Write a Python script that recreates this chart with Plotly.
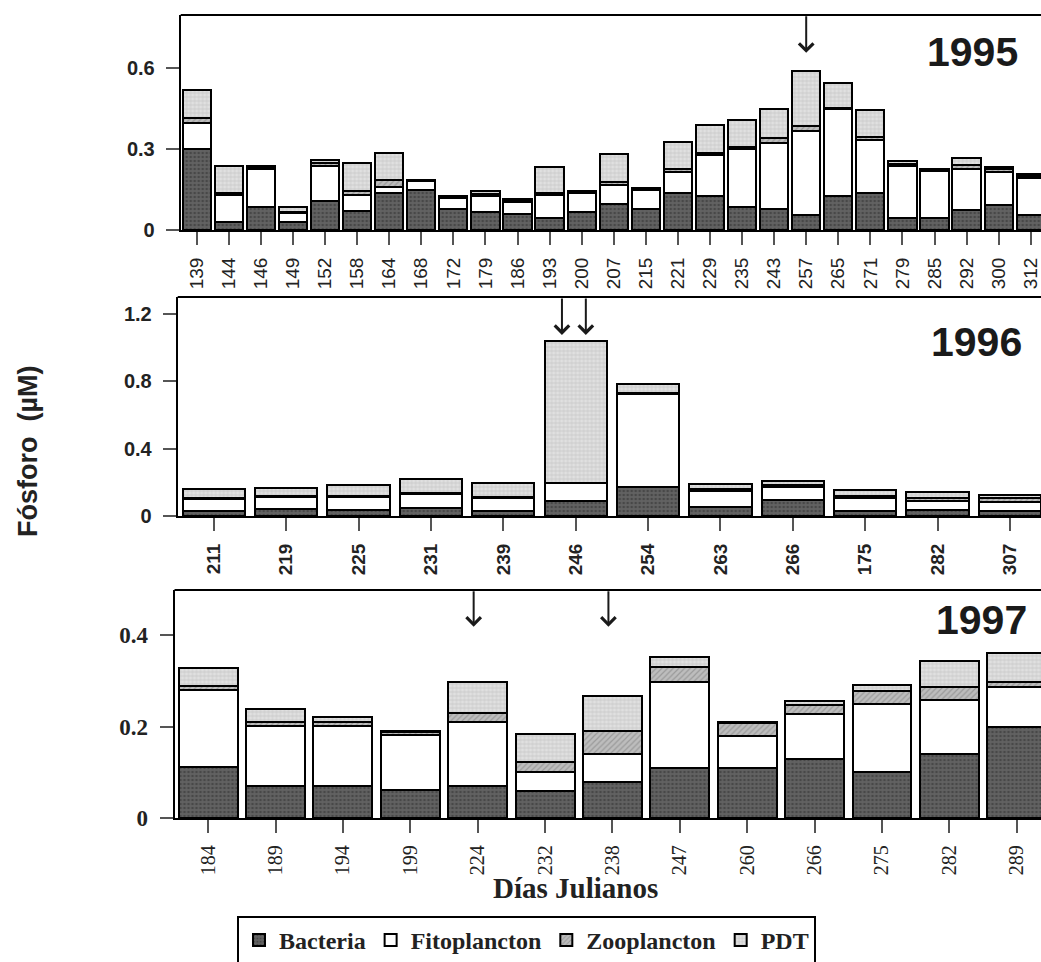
import plotly.graph_objects as go

W, H = 1041, 962

# ---- 1995 ----
dias_1995 = ["139", "144", "146", "149", "152", "158", "164", "168", "172", "179",
             "186", "193", "200", "207", "215", "221", "229", "235", "243", "257",
             "265", "271", "279", "285", "292", "300", "312"]
bact_1995 = [0.300, 0.031, 0.086, 0.031, 0.107, 0.070, 0.138, 0.148, 0.078, 0.068,
             0.058, 0.043, 0.065, 0.098, 0.077, 0.138, 0.126, 0.086, 0.077, 0.054,
             0.126, 0.136, 0.046, 0.046, 0.074, 0.093, 0.054]
fito_1995 = [0.097, 0.099, 0.139, 0.031, 0.131, 0.060, 0.022, 0.032, 0.039, 0.059,
             0.047, 0.087, 0.071, 0.069, 0.070, 0.078, 0.151, 0.213, 0.246, 0.313,
             0.321, 0.197, 0.191, 0.173, 0.151, 0.123, 0.140]
zoo_1995 = [0.019, 0.008, 0.005, 0.006, 0.009, 0.016, 0.025, 0.003, 0.004, 0.006,
            0.005, 0.008, 0.004, 0.011, 0.004, 0.011, 0.009, 0.008, 0.019, 0.018,
            0.003, 0.013, 0.006, 0.004, 0.016, 0.009, 0.005]
pdt_1995 = [0.103, 0.099, 0.007, 0.018, 0.011, 0.101, 0.101, 0.003, 0.006, 0.013,
            0.006, 0.097, 0.006, 0.102, 0.006, 0.099, 0.102, 0.100, 0.105, 0.204,
            0.096, 0.098, 0.013, 0.004, 0.024, 0.008, 0.007]

# ---- 1996 ----
dias_1996 = ["211", "219", "225", "231", "239", "246", "254", "263", "266", "175",
             "282", "307"]
bact_1996 = [0.032, 0.040, 0.036, 0.046, 0.032, 0.089, 0.172, 0.055, 0.095, 0.030,
             0.036, 0.030]
fito_1996 = [0.067, 0.071, 0.075, 0.085, 0.073, 0.105, 0.551, 0.094, 0.079, 0.079,
             0.053, 0.055]
zoo_1996 = [0.006, 0.005, 0.005, 0.005, 0.005, 0.004, 0.010, 0.013, 0.008, 0.010,
            0.020, 0.020]
pdt_1996 = [0.053, 0.052, 0.068, 0.084, 0.086, 0.838, 0.053, 0.030, 0.026, 0.033,
            0.036, 0.018]

# ---- 1997 ----
dias_1997 = ["184", "189", "194", "199", "224", "232", "238", "247", "260", "266",
             "275", "282", "289"]
bact_1997 = [0.111, 0.071, 0.071, 0.062, 0.071, 0.060, 0.080, 0.109, 0.109, 0.129,
             0.100, 0.140, 0.199]
fito_1997 = [0.169, 0.130, 0.130, 0.119, 0.138, 0.040, 0.060, 0.188, 0.071, 0.098,
             0.149, 0.117, 0.088]
zoo_1997 = [0.009, 0.008, 0.008, 0.007, 0.020, 0.022, 0.051, 0.032, 0.027, 0.020,
            0.029, 0.030, 0.010]
pdt_1997 = [0.038, 0.030, 0.011, 0.003, 0.068, 0.061, 0.076, 0.022, 0.002, 0.008,
            0.013, 0.057, 0.064]

componentes = ["Bacteria", "Fitoplancton", "Zooplancton", "PDT"]

estilos = {
    "Bacteria": dict(color="#5a5a5a",
                     pattern=dict(shape=".", fgcolor="#2e2e2e", bgcolor="#626262",
                                  size=4, solidity=0.35)),
    "Fitoplancton": dict(color="white"),
    "Zooplancton": dict(color="#b0b0b0",
                        pattern=dict(shape="/", fgcolor="#777777", bgcolor="#bdbdbd",
                                     size=4, solidity=0.3)),
    "PDT": dict(color="#d6d6d6",
                pattern=dict(shape="+", fgcolor="#9c9c9c", bgcolor="#e0e0e0",
                             size=4, solidity=0.25)),
}

paneles = [
    dict(dias=dias_1995, series=[bact_1995, fito_1995, zoo_1995, pdt_1995],
         ax="", width=0.88),
    dict(dias=dias_1996, series=[bact_1996, fito_1996, zoo_1996, pdt_1996],
         ax="2", width=0.86),
    dict(dias=dias_1997, series=[bact_1997, fito_1997, zoo_1997, pdt_1997],
         ax="3", width=0.875),
]

fig = go.Figure()
for i, p in enumerate(paneles):
    for nombre, valores in zip(componentes, p["series"]):
        est = estilos[nombre]
        marker = dict(color=est["color"], line=dict(color="black", width=2))
        if "pattern" in est:
            marker["pattern"] = est["pattern"]
        fig.add_trace(go.Bar(
            x=p["dias"], y=valores, name=nombre, legendgroup=nombre,
            showlegend=(i == 0), width=p["width"], marker=marker,
            xaxis="x" + p["ax"], yaxis="y" + p["ax"], hoverinfo="x+y+name",
        ))


def px_x(v):
    return v / W


def px_y(v):
    return 1 - v / H


sans = "Liberation Sans, Arial, sans-serif"
serif = "Liberation Serif, Times New Roman, serif"

eje_comun = dict(showline=True, linecolor="black", linewidth=2, ticks="outside",
                 tickcolor="#555", ticklen=13, tickwidth=1.5, showgrid=False,
                 zeroline=False)

# panel pixel frames: (left, top, bottom)
marcos = [(180.7, 15, 230), (177.7, 297, 516), (174.5, 590, 818.3)]
rangos_x = [[-0.5, 26.32], [-0.5, 11.43], [-0.5, 12.36]]
rangos_y = [[0, 0.796], [0, 1.30], [0, 0.498]]
ticks_y = [([0, 0.3, 0.6], ["0", "0.3", "0.6"]),
           ([0, 0.4, 0.8, 1.2], ["0", "0.4", "0.8", "1.2"]),
           ([0, 0.2, 0.4], ["0", "0.2", "0.4"])]
fuentes_x = [dict(family=sans, size=19, color="#222"),
             dict(family=sans, size=19, color="#222", weight="bold"),
             dict(family=serif, size=20, color="#222")]
fuentes_y = [dict(family=sans, size=20, color="#222", weight="bold"),
             dict(family=sans, size=20, color="#222", weight="bold"),
             dict(family=serif, size=23, color="#222", weight="bold")]
separacion_x = [5, 5, 4]

layout = dict(
    width=W, height=H, margin=dict(l=0, r=0, t=0, b=0, autoexpand=False),
    paper_bgcolor="white", plot_bgcolor="white", barmode="stack",
    showlegend=True,
    legend=dict(orientation="h", x=px_x(237), y=px_y(916), xanchor="left",
                yanchor="top", bordercolor="black", borderwidth=2,
                font=dict(family=serif, size=24, color="#222", weight="bold"),
                itemwidth=30, traceorder="normal"),
)

shapes = []
for i, (left, top, bottom) in enumerate(marcos):
    sfx = "" if i == 0 else str(i + 1)
    layout["xaxis" + sfx] = dict(
        eje_comun, domain=[px_x(left), 1], anchor="y" + sfx, type="category",
        range=rangos_x[i], tickangle=-90, tickfont=fuentes_x[i],
        ticklabelstandoff=separacion_x[i])
    layout["yaxis" + sfx] = dict(
        eje_comun, domain=[px_y(bottom), px_y(top)], anchor="x" + sfx,
        range=rangos_y[i], tickvals=ticks_y[i][0], ticktext=ticks_y[i][1],
        tickfont=fuentes_y[i], ticklabelstandoff=7)
    shapes.append(dict(type="line", xref="x" + sfx + " domain", yref="y" + sfx + " domain",
                       x0=0, x1=1.02, y0=1, y1=1, line=dict(color="black", width=2)))
layout["shapes"] = shapes

anots = []
# year labels
for texto, cx, cy in [("1995", 972, 52), ("1996", 976, 342), ("1997", 981, 620)]:
    anots.append(dict(text=texto, x=px_x(cx), y=px_y(cy), xref="paper", yref="paper",
                      showarrow=False, xanchor="center", yanchor="middle",
                      font=dict(family=sans, size=41, color="#1a1a1a", weight="bold")))

# event arrows
flechas = [("x", "y", 19, 0.656, -38),
           ("x2", "y2", 4.81, 1.075, -38),
           ("x2", "y2", 5.14, 1.075, -38),
           ("x3", "y3", 3.94, 0.418, -37),
           ("x3", "y3", 5.94, 0.418, -37)]
for xr, yr, xv, yv, ay in flechas:
    anots.append(dict(x=xv, y=yv, xref=xr, yref=yr, text="", showarrow=True,
                      arrowhead=4, arrowsize=1.4, arrowwidth=2, arrowcolor="#1a1a1a",
                      ax=0, ay=ay))

anots.append(dict(text="Fósforo  (µM)", x=px_x(28), y=px_y(451), xref="paper",
                  yref="paper", showarrow=False, textangle=-90,
                  xanchor="center", yanchor="middle",
                  font=dict(family=sans, size=27, color="#222", weight="bold")))
anots.append(dict(text="Días Julianos", x=px_x(575), y=px_y(888), xref="paper",
                  yref="paper", showarrow=False, xanchor="center", yanchor="middle",
                  font=dict(family=serif, size=29, color="#222", weight="bold")))
layout["annotations"] = anots

fig.update_layout(layout)
fig.write_html("out.html")
